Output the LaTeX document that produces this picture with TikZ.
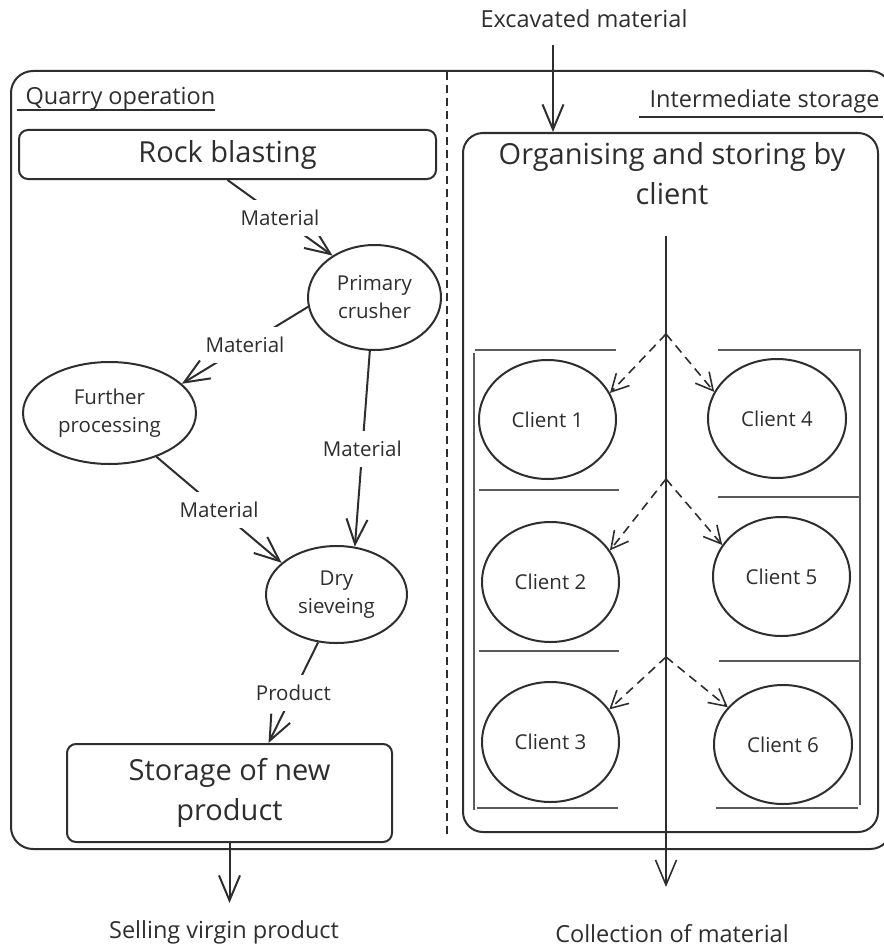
\documentclass[tikz,border=0pt]{standalone}
\usepackage{fontspec}
\setmainfont{Open Sans}
\usetikzlibrary{arrows.meta,shapes.geometric}
\definecolor{ink}{HTML}{2E2E2E}
\definecolor{shelf}{HTML}{5A5A5A}
\begin{document}
\begin{tikzpicture}[x=1pt,y=-1pt,
  every node/.style={text=ink},
  ln/.style={draw=ink,line width=2pt},
  opentip/.style={-{Straight Barb[length=25pt,width=21pt,line width=2pt]}},
  dashtip/.style={-{Straight Barb[length=17pt,width=18pt,line width=1.6pt]}},
  bigtxt/.style={font=\fontsize{29}{40}\selectfont},
  midtxt/.style={font=\fontsize{23.5}{28}\selectfont},
  smalltxt/.style={font=\fontsize{20.5}{28}\selectfont},
  boxnode/.style={ln,rounded corners=9pt,inner sep=0pt,align=center,bigtxt},
  oval/.style={ln,ellipse,inner sep=0pt,align=center,smalltxt},
  lbl/.style={fill=white,inner xsep=3pt,inner ysep=10pt,smalltxt},
  shelfline/.style={draw=shelf,line width=2.4pt},
  flow/.style={ln,dash pattern=on 9pt off 6pt,line width=1.6pt}]
\useasboundingbox (0,0) rectangle (883,947);

% outer frame and the divider between the two areas
\node[ln,rounded corners=22pt,minimum width=881pt,minimum height=778pt,inner sep=0pt] (frame) at (451.5,460) {};
\draw[ln,dash pattern=on 8pt off 5pt] (447,72) -- (447,837);

% area titles
\node[midtxt,anchor=base west] (qtitle) at (22,105) {Quarry operation};
\draw[ln] (17,110) -- (215,110);
\node[midtxt,anchor=base west] (stitle) at (646,108) {Intermediate storage};
\draw[ln] (639,117) -- (883,117);

% quarry operation
\node[boxnode,minimum width=417pt,minimum height=49pt] (rb) at (227.5,154.5) {Rock blasting};
\node[oval,minimum width=133pt,minimum height=105pt] (pc) at (374.5,297.5) {Primary\\crusher};
\node[oval,minimum width=173pt,minimum height=102pt] (fp) at (109.5,413) {Further\\processing};
\node[oval,minimum width=141pt,minimum height=97pt] (ds) at (336.5,594.5) {Dry\\sieveing};
\node[boxnode,minimum width=325pt,minimum height=98pt] (st) at (229.5,793) {Storage of new\\product};

\draw[ln,opentip] (rb.south) -- node[lbl] {Material} (pc.135);
\draw[ln,opentip] (pc.188) -- node[lbl] {Material} (fp.22);
\draw[ln,opentip] (pc.265) -- node[lbl] {Material} (ds.69);
\draw[ln,opentip] (fp.-43) -- node[lbl] {Material} (ds.150);
\coordinate (stin) at ([xshift=39pt]st.north);
\draw[ln,opentip] (ds.249) -- node[lbl] {Product} (stin);

\node[midtxt,anchor=base] (sell) at (224,938) {Selling virgin product};
\coordinate (sellend) at ([yshift=-60pt]st.south);
\draw[ln,opentip] (st.south) -- (sellend);

% intermediate storage
\node[ln,rounded corners=20pt,minimum width=415pt,minimum height=699pt,inner sep=0pt] (org) at (670.5,482.5) {};
\node[bigtxt,align=center,anchor=north] (orgtxt) at (672,139) {Organising and storing by\\client};

\node[midtxt,anchor=base] (exc) at (584,28) {Excavated material};
\coordinate (excstart) at (553,45);
\draw[ln,opentip] (excstart) -- (org.north -| excstart);

% shelves
\draw[shelfline] (475,350) -- (616,350);
\draw[shelfline] (474,353) -- (474,810);
\draw[shelfline] (479,490) -- (619,490);
\draw[shelfline] (479,651) -- (619,651);
\draw[shelfline] (477,808) -- (618,808);
\draw[shelfline] (718,350) -- (860,350) -- (860,805);
\draw[shelfline] (718,497) -- (860,497);
\draw[shelfline] (719,661) -- (860,661);
\draw[shelfline] (716,808) -- (858,808);

% clients
\node[oval,minimum width=137pt,minimum height=119pt] (c1) at (547.5,419.5) {Client 1};
\node[oval,minimum width=138pt,minimum height=119pt] (c4) at (777,418.5) {Client 4};
\node[oval,minimum width=137pt,minimum height=120pt] (c2) at (550.5,582) {Client 2};
\node[oval,minimum width=137pt,minimum height=119pt] (c5) at (781.5,576.5) {Client 5};
\node[oval,minimum width=137pt,minimum height=120pt] (c3) at (550.5,742) {Client 3};
\node[oval,minimum width=138pt,minimum height=119pt] (c6) at (783,744.5) {Client 6};

% collection line with the branches to each client
\coordinate (spinetop) at (666,236);
\coordinate (spineend) at (666,887);
\coordinate (fork1) at (666,334);
\coordinate (fork2) at (666,479);
\coordinate (fork3) at (666,657);
\draw[ln,line width=1.6pt,-{Straight Barb[length=25pt,width=21pt,line width=1.6pt]}] (spinetop) -- (spineend);
\draw[flow,dashtip] (fork1) -- (c1.23);
\draw[flow,dashtip] (fork1) -- (c4.157);
\draw[flow,dashtip] (fork2) -- (c2.28);
\draw[flow,dashtip] (fork2) -- (c5.152);
\draw[flow,dashtip] (fork3) -- (c3.29);
\draw[flow,dashtip] (fork3) -- (c6.146);

\node[midtxt,anchor=base] (coll) at (672,942) {Collection of material};
\end{tikzpicture}
\end{document}
